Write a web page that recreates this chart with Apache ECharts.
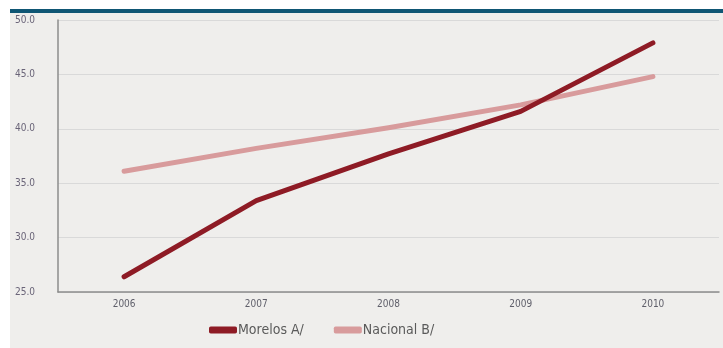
<!DOCTYPE html>
<html>
<head>
<meta charset="utf-8">
<script src="https://cdn.jsdelivr.net/npm/echarts@6/dist/echarts.min.js"></script>
<style>
  html, body { margin: 0; padding: 0; background: #ffffff; }
  #chart { width: 723px; height: 348px; }
</style>
</head>
<body>
<div id="chart"></div>
<script>
var years = ['2006', '2007', '2008', '2009', '2010'];
var morelos = [26.4, 33.4, 37.7, 41.6, 47.9];
var nacional = [36.1, 38.2, 40.1, 42.2, 44.8];
var seriesNames = ['Morelos A/', 'Nacional B/'];

var labelFont = '"Liberation Sans Narrow", "DejaVu Sans Condensed", "Open Sans", sans-serif';

var chart = echarts.init(document.getElementById('chart'));
chart.setOption({
    backgroundColor: '#ffffff',
    animation: false,
    graphic: [
        { type: 'rect', z: -10, shape: { x: 10, y: 9, width: 713, height: 339 }, style: { fill: '#efeeec' } },
        { type: 'rect', z: -9, shape: { x: 10, y: 9, width: 713, height: 4 }, style: { fill: '#0f5674' } }
    ],
    grid: { left: 58, right: 4, top: 20, bottom: 56 },
    legend: {
        left: 204,
        top: 318,
        itemWidth: 28,
        itemHeight: 7,
        itemGap: 30,
        icon: 'roundRect',
        textStyle: { fontFamily: labelFont, fontSize: 14, color: '#5a5a5a', padding: [0, 0, 0, -4] },
        data: seriesNames
    },
    xAxis: {
        type: 'category',
        data: years,
        boundaryGap: true,
        axisLine: { lineStyle: { color: '#8c8c8c', width: 1.5 } },
        axisTick: { show: false },
        axisLabel: { fontFamily: labelFont, fontSize: 10, color: '#5f5f6a', margin: 7 }
    },
    yAxis: {
        type: 'value',
        min: 25,
        max: 50,
        interval: 5,
        axisLine: { show: true, lineStyle: { color: '#8c8c8c', width: 1.5 } },
        axisTick: { show: false },
        splitLine: { lineStyle: { color: '#d9d9d9', width: 1.2 } },
        axisLabel: {
            fontFamily: labelFont, fontSize: 10, color: '#6a6478', margin: 23,
            formatter: function (v) { return v.toFixed(1); }
        }
    },
    series: [
        {
            name: seriesNames[0],
            type: 'line',
            data: morelos,
            showSymbol: false,
            symbol: 'none',
            itemStyle: { color: '#8e1b25' },
            lineStyle: { width: 5, color: '#8e1b25', cap: 'round', join: 'round' },
            z: 3
        },
        {
            name: seriesNames[1],
            type: 'line',
            data: nacional,
            showSymbol: false,
            symbol: 'none',
            itemStyle: { color: '#d89b9c' },
            lineStyle: { width: 5, color: '#d89b9c', cap: 'round', join: 'round' },
            z: 2
        }
    ]
});
</script>
</body>
</html>
